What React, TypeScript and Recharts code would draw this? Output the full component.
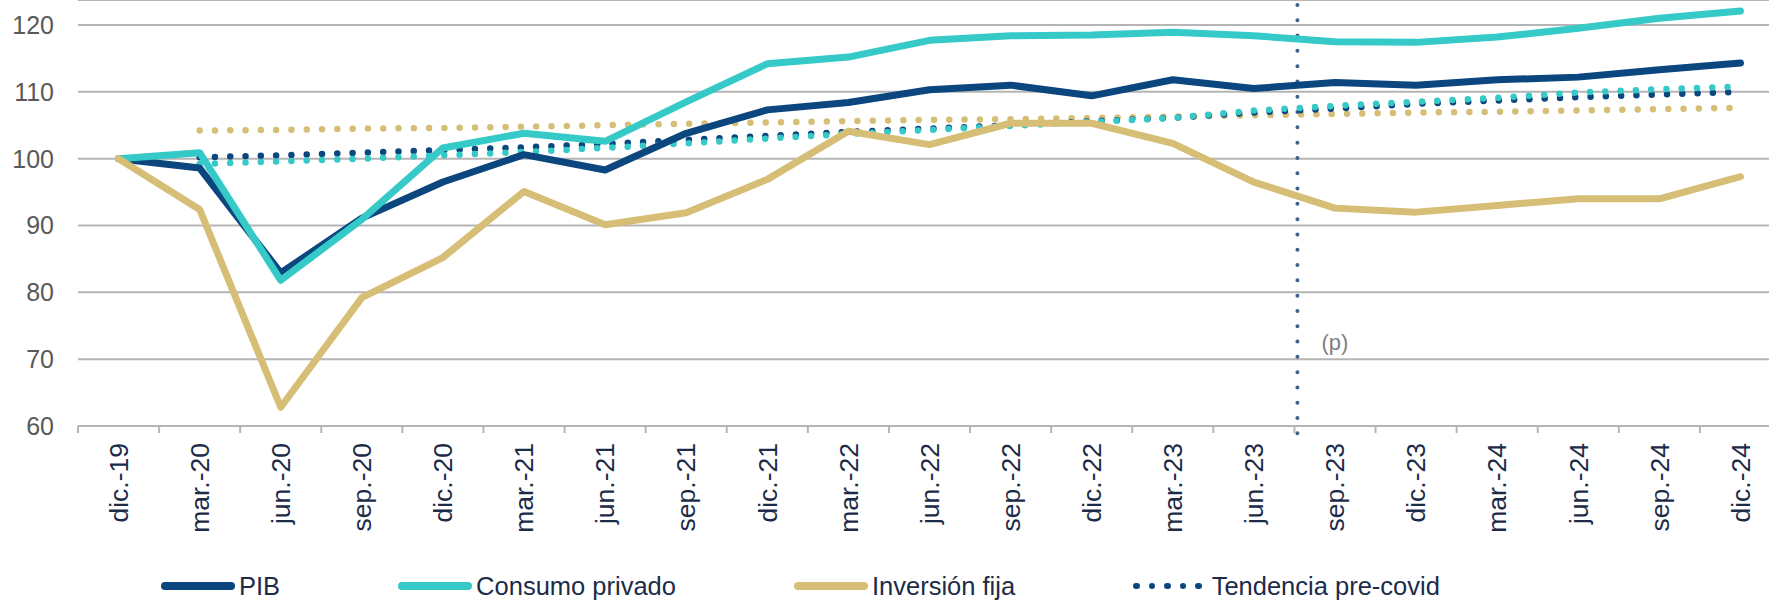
import { LineChart, Line, XAxis, YAxis, CartesianGrid, ReferenceLine, ReferenceDot } from "recharts";

const quarters = [
  "dic.-19", "mar.-20", "jun.-20", "sep.-20", "dic.-20", "mar.-21", "jun.-21",
  "sep.-21", "dic.-21", "mar.-22", "jun.-22", "sep.-22", "dic.-22", "mar.-23",
  "jun.-23", "sep.-23", "dic.-23", "mar.-24", "jun.-24", "sep.-24", "dic.-24",
];

// index dic-19 = 100
const pib = [100, 98.6, 82.9, 91.1, 96.5, 100.6, 98.3, 103.8, 107.3, 108.4, 110.3, 111.0, 109.4, 111.8, 110.5, 111.4, 111.0, 111.8, 112.2, 113.3, 114.3];
const consumo = [100, 100.9, 81.8, 90.9, 101.6, 103.8, 102.6, 108.5, 114.2, 115.2, 117.7, 118.4, 118.5, 118.9, 118.4, 117.5, 117.4, 118.2, 119.5, 121.0, 122.1];
const inversion = [100, 92.4, 62.8, 79.2, 85.2, 95.1, 90.1, 91.9, 96.9, 104.1, 102.1, 105.3, 105.3, 102.3, 96.5, 92.6, 92.0, 93.0, 94.0, 94.0, 97.3];

// pre-covid trends (start at mar-20)
const tendPib = [null, 100.2, 100.5, 100.9, 101.3, 101.7, 102.2, 102.8, 103.4, 104.0, 104.5, 105.0, 105.6, 106.1, 106.9, 107.5, 108.2, 108.7, 109.2, 109.6, 110.0];
const tendConsumo = [null, 99.2, 99.6, 100.0, 100.5, 101.0, 101.6, 102.3, 103.0, 103.7, 104.3, 104.9, 105.5, 106.1, 107.2, 107.9, 108.5, 109.1, 109.9, 110.4, 110.8];
const tendInversion = [null, 104.2, 104.3, 104.5, 104.6, 104.8, 105.0, 105.2, 105.4, 105.6, 105.8, 105.9, 106.1, 106.3, 106.5, 106.7, 106.9, 107.0, 107.2, 107.4, 107.6];

const yTicks = [60, 70, 80, 90, 100, 110, 120];

const NAVY = "#0B467E";
const TURQ = "#35C9C8";
const GOLD = "#D6BE76";
const GRID = "#b5b5b5";
const TEXT = "#1c2b48";

// half a category width: points sit in the middle of each quarter
const PAD = 40.55;

const data = quarters.map((q, i) => ({
  q,
  pib: pib[i],
  consumo: consumo[i],
  inversion: inversion[i],
  tendPib: tendPib[i],
  tendConsumo: tendConsumo[i],
  tendInversion: tendInversion[i],
}));

const legendItems = [
  { name: "PIB", color: NAVY, dotted: false },
  { name: "Consumo privado", color: TURQ, dotted: false },
  { name: "Inversión fija", color: GOLD, dotted: false },
  { name: "Tendencia pre-covid", color: NAVY, dotted: true },
];

// rotated quarter label + tick mark on the category boundary (Excel style)
function QuarterTick(props: any) {
  const { x, y, payload } = props;
  return (
    <g>
      <line x1={x - PAD} x2={x - PAD} y1={y} y2={y + 7} stroke={GRID} strokeWidth={2} />
      <text
        transform={`translate(${x},${y + 17}) rotate(-90)`}
        textAnchor="end"
        dy="0.35em"
        fill={TEXT}
        fontSize={26.5}
      >
        {payload.value}
      </text>
    </g>
  );
}

// forecast divider, drawn on the boundary before sep-23
function Divider(props: any) {
  const { x1, y1, x2, y2 } = props;
  return (
    <line
      x1={x1 - PAD + 3}
      x2={x2 - PAD + 3}
      y1={y1}
      y2={y2}
      stroke="#3E6289"
      strokeWidth={4}
      strokeDasharray="0 15.3"
      strokeLinecap="round"
    />
  );
}

export default function App() {
  return (
    <div
      style={{
        position: "absolute",
        left: 0,
        top: 0,
        width: 1769,
        height: 601,
        overflow: "hidden",
        background: "#fff",
        fontFamily: '"Liberation Sans", Arial, sans-serif',
      }}
    >
      <LineChart width={1781} height={601} data={data} margin={{ top: 0, right: 0, bottom: 0, left: 0 }}>
        <CartesianGrid vertical={false} stroke={GRID} strokeWidth={2} />
        <XAxis
          dataKey="q"
          interval={0}
          height={175}
          padding={{ left: PAD, right: PAD }}
          axisLine={{ stroke: GRID, strokeWidth: 2 }}
          tickLine={false}
          tickSize={0}
          tickMargin={0}
          tick={<QuarterTick />}
        />
        <YAxis
          width={78}
          domain={[60, 123.74]}
          ticks={yTicks}
          allowDataOverflow
          axisLine={false}
          tickLine={false}
          tickSize={0}
          tickMargin={24}
          tick={{ fill: "#595959", fontSize: 25 }}
        />
        <ReferenceLine
          segment={[{ x: "sep.-23", y: 123 }, { x: "sep.-23", y: 58 }]}
          ifOverflow="visible"
          shape={<Divider />}
        />
        <ReferenceDot
          x="sep.-23"
          y={72.6}
          r={0}
          fill="none"
          stroke="none"
          label={{ value: "(p)", position: "center", fill: "#7f7f7f", fontSize: 22 }}
        />
        <Line dataKey="tendInversion" stroke={GOLD} strokeWidth={6.5} strokeDasharray="0 15.3" strokeLinecap="round" dot={false} activeDot={false} isAnimationActive={false} />
        <Line dataKey="tendPib" stroke={NAVY} strokeWidth={6.5} strokeDasharray="0 15.3" strokeLinecap="round" dot={false} activeDot={false} isAnimationActive={false} />
        <Line dataKey="tendConsumo" stroke={TURQ} strokeWidth={6.5} strokeDasharray="0 15.3" strokeLinecap="round" dot={false} activeDot={false} isAnimationActive={false} />
        <Line dataKey="pib" stroke={NAVY} strokeWidth={7} strokeLinecap="round" strokeLinejoin="round" dot={false} activeDot={false} isAnimationActive={false} />
        <Line dataKey="consumo" stroke={TURQ} strokeWidth={7} strokeLinecap="round" strokeLinejoin="round" dot={false} activeDot={false} isAnimationActive={false} />
        <Line dataKey="inversion" stroke={GOLD} strokeWidth={7} strokeLinecap="round" strokeLinejoin="round" dot={false} activeDot={false} isAnimationActive={false} />
      </LineChart>

      <div
        style={{
          position: "absolute",
          left: 161,
          top: 573,
          height: 26,
          display: "flex",
          alignItems: "center",
          gap: 118,
          fontSize: 25.5,
          lineHeight: "26px",
          color: TEXT,
        }}
      >
        {legendItems.map((it) => (
          <div key={it.name} style={{ display: "flex", alignItems: "center", height: 26 }}>
            {it.dotted ? (
              <div style={{ display: "flex", gap: 9, marginRight: 10 }}>
                {[0, 1, 2, 3, 4].map((k) => (
                  <span key={k} style={{ width: 6.5, height: 6.5, borderRadius: "50%", background: it.color }} />
                ))}
              </div>
            ) : (
              <span style={{ width: 74, height: 8, borderRadius: 4, background: it.color, marginRight: 4 }} />
            )}
            <span>{it.name}</span>
          </div>
        ))}
      </div>
    </div>
  );
}
